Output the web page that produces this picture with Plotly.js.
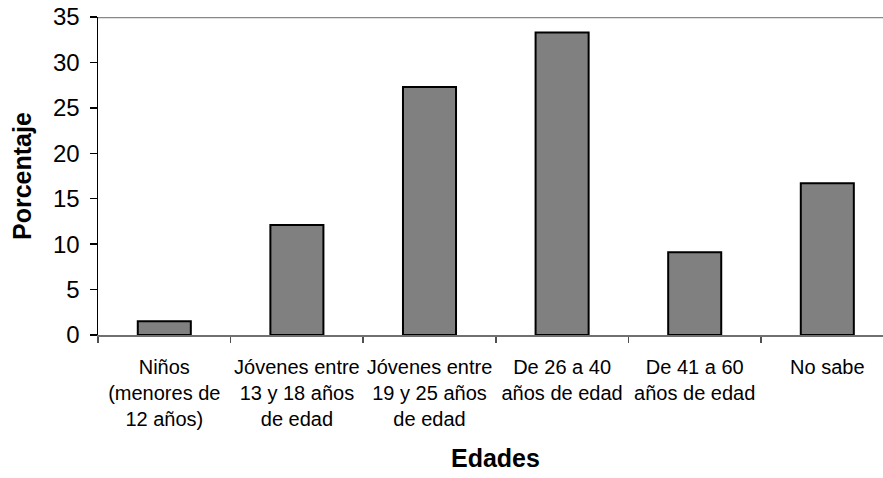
<!DOCTYPE html>
<html>
<head>
<meta charset="utf-8">
<script src="https://cdn.plot.ly/plotly-3.0.1.min.js"></script>
<style>html,body{margin:0;padding:0;background:#fff;}#chart{width:883px;height:478px;}</style>
</head>
<body>
<div id="chart"></div>
<script>
const categories = [
  "Niños<br>(menores de<br>12 años)",
  "Jóvenes entre<br>13 y 18 años<br>de edad",
  "Jóvenes entre<br>19 y 25 años<br>de edad",
  "De 26 a 40<br>años de edad",
  "De 41 a 60<br>años de edad",
  "No sabe"
];
const values = [1.5, 12.1, 27.3, 33.3, 9.1, 16.7];
const yTicks = [0, 5, 10, 15, 20, 25, 30, 35];
const yTitle = "Porcentaje";
const xTitle = "Edades";

const FONT = "'Liberation Sans', Arial, sans-serif";

const trace = {
  type: "bar",
  x: categories,
  y: values,
  width: 0.4,
  marker: { color: "#808080", line: { color: "#000000", width: 2 } },
  hoverinfo: "none"
};

const layout = {
  width: 883,
  height: 478,
  margin: { l: 98, r: 0, t: 17, b: 143 },
  paper_bgcolor: "#ffffff",
  plot_bgcolor: "#ffffff",
  showlegend: false,
  font: { family: FONT, color: "#000000" },
  xaxis: {
    type: "category",
    range: [-0.5, 5.42],
    showline: true,
    linecolor: "#707070",
    linewidth: 2,
    ticks: "outside",
    tickson: "boundaries",
    ticklen: 6,
    tickwidth: 1.5,
    tickcolor: "#505050",
    tickangle: 0,
    ticklabelstandoff: 13,
    tickfont: { family: FONT, size: 20, color: "#000000" },
    showgrid: false,
    zeroline: false,
    fixedrange: true
  },
  yaxis: {
    range: [0, 35],
    tickvals: yTicks,
    ticktext: yTicks.map(String),
    showline: true,
    linecolor: "#000000",
    linewidth: 1.5,
    ticks: "outside",
    ticklen: 7,
    tickwidth: 1.5,
    tickcolor: "#000000",
    ticklabelstandoff: 5,
    tickfont: { family: FONT, size: 24, color: "#000000" },
    showgrid: false,
    zeroline: false,
    fixedrange: true
  },
  shapes: [
    { type: "line", xref: "paper", yref: "y", x0: 0, x1: 1, y0: 35, y1: 35,
      line: { color: "#888888", width: 2.5 } }
  ],
  annotations: [
    { text: "<b>" + yTitle + "</b>", xref: "paper", yref: "paper", x: 0, y: 0.5,
      xshift: -76, xanchor: "center", yanchor: "middle", textangle: -90,
      showarrow: false, font: { family: FONT, size: 25, color: "#000000" } },
    { text: "<b>" + xTitle + "</b>", xref: "x", yref: "paper", x: 2.5, y: 0,
      yshift: -123, xanchor: "center", yanchor: "middle",
      showarrow: false, font: { family: FONT, size: 25, color: "#000000" } }
  ]
};

Plotly.newPlot("chart", [trace], layout, { staticPlot: true, displayModeBar: false });
</script>
</body>
</html>
